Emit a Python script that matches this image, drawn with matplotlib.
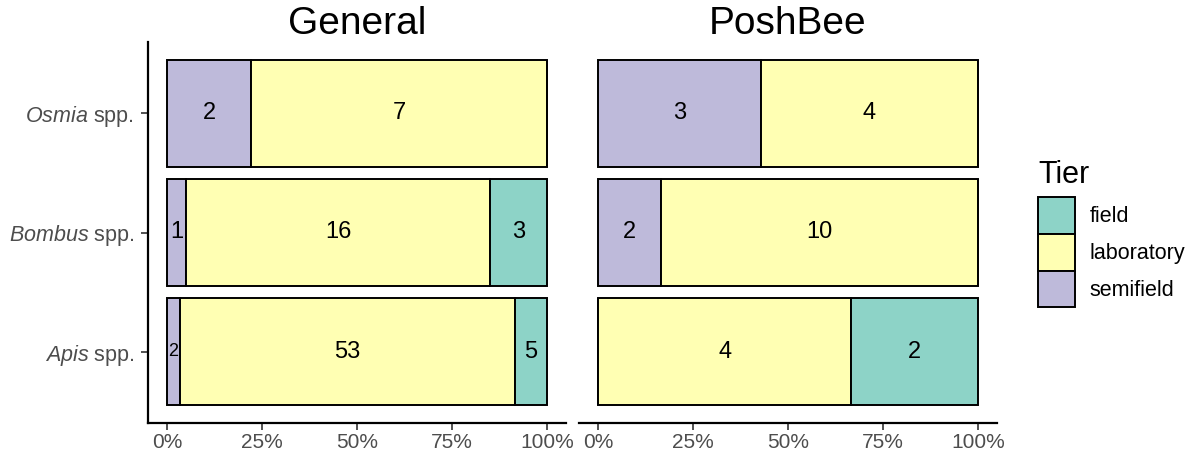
import numpy as np
import matplotlib
matplotlib.use("Agg")
import matplotlib.pyplot as plt
from matplotlib.patches import Patch

plt.rcParams['font.family'] = ['Liberation Sans', 'DejaVu Sans']
plt.rcParams['mathtext.fontset'] = 'custom'
plt.rcParams['mathtext.it'] = 'Liberation Sans:italic'
plt.rcParams['mathtext.rm'] = 'Liberation Sans'

# data
species = ["Apis", "Bombus", "Osmia"]          # bottom to top
tiers = ["semifield", "laboratory", "field"]   # stacking order, left to right
colors = {"field": "#8DD3C7", "laboratory": "#FFFFB3", "semifield": "#BEBADA"}
panels = ["General", "PoshBee"]
general = {"semifield": [2, 1, 2], "laboratory": [53, 16, 7], "field": [5, 3, 0]}
poshbee = {"semifield": [0, 2, 3], "laboratory": [4, 10, 4], "field": [2, 0, 0]}
counts = [general, poshbee]
xticks = [0, 0.25, 0.5, 0.75, 1.0]
xticklabels = ["0%", "25%", "50%", "75%", "100%"]

W, H = 1192, 455
fig = plt.figure(figsize=(W / 100, H / 100), dpi=100)
bottom = 1 - 423 / H
top = 1 - 42 / H
ax_left = [148, 579]
ax_w = 418
grey = "#4D4D4D"

for p in range(2):
    ax = fig.add_axes([ax_left[p] / W, bottom, ax_w / W, top - bottom])
    data = counts[p]
    totals = np.array([sum(data[t][i] for t in tiers) for i in range(len(species))], float)
    y = np.arange(len(species))
    left = np.zeros(len(species))
    for t in tiers:
        vals = np.array(data[t], float)
        frac = vals / totals
        ax.barh(y, frac, left=left, height=0.9, color=colors[t],
                edgecolor="black", linewidth=1.4)
        for i in range(len(species)):
            if vals[i] > 0:
                fs = 17 if frac[i] > 0.04 else 13
                ax.text(left[i] + frac[i] / 2, y[i], str(int(vals[i])),
                        ha="center", va="center", fontsize=fs, color="black")
        left = left + frac
    ax.set_xlim(-0.05, 1.05)
    ax.set_ylim(-0.6, 2.6)
    ax.set_xticks(xticks)
    ax.set_xticklabels(xticklabels, fontsize=15, color=grey)
    ax.set_title(panels[p], fontsize=28, pad=3)
    for s in ["top", "right"]:
        ax.spines[s].set_visible(False)
    ax.spines["bottom"].set_linewidth(1.6)
    ax.spines["left"].set_linewidth(1.6)
    ax.tick_params(axis="x", length=5, width=1.2, color="#333333", pad=2)
    if p == 0:
        ax.set_yticks(y)
        ax.set_yticklabels([r"$\it{" + s + "}$ spp." for s in species],
                           fontsize=15.5, color=grey)
        ax.tick_params(axis="y", length=5, width=1.2, color="#333333", pad=5)
    else:
        ax.spines["left"].set_visible(False)
        ax.set_yticks([])

handles = [Patch(facecolor=colors[t], edgecolor="black", linewidth=1.4)
           for t in ["field", "laboratory", "semifield"]]
leg = fig.legend(handles, ["field", "laboratory", "semifield"], title="Tier",
                 loc="upper left", bbox_to_anchor=(1023 / W, 1 - 145 / H),
                 frameon=False, fontsize=15.5, title_fontsize=22,
                 handlelength=1.7, handleheight=2.25, labelspacing=0.0,
                 handletextpad=0.7, borderpad=0.2)
leg._legend_box.align = "left"
leg._legend_box.sep = 5
for txt in leg.get_texts():
    txt.set_color("black")

fig.savefig("out.png", dpi=100)
